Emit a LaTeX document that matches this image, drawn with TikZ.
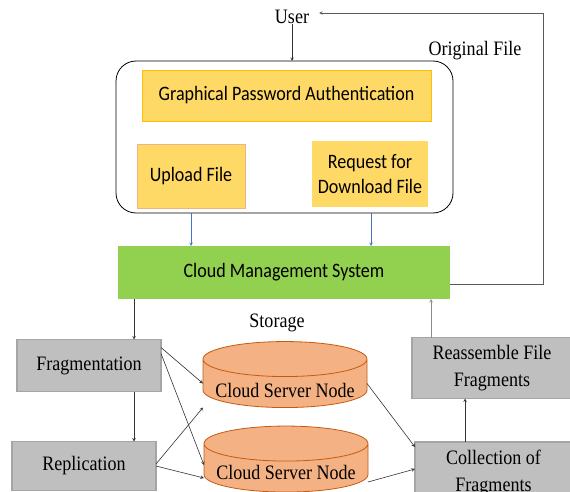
\documentclass[tikz,border=0pt]{standalone}
\usepackage{fontspec}
\setmainfont{Liberation Serif}[FakeStretch=0.88]
\newfontfamily\calibri{Carlito}[FakeStretch=0.88]
\usetikzlibrary{shapes.geometric}

\definecolor{gold}{HTML}{FFD966}
\definecolor{goldline}{HTML}{FFC000}
\definecolor{peach}{HTML}{F4B183}
\definecolor{rust}{HTML}{C55A11}
\definecolor{mgmtgreen}{HTML}{92D050}
\definecolor{boxgray}{HTML}{BFBFBF}
\definecolor{linegray}{HTML}{A5A5A5}
\definecolor{officeblue}{HTML}{4472C4}

\newcommand{\labelsize}{\fontsize{20.5}{27}\selectfont}

\tikzset{
  panel/.style={rectangle, fill=gold, align=center,
    font=\calibri\fontsize{20.5}{24.5}\selectfont},
  graybox/.style={rectangle, draw=linegray, line width=1.2pt, fill=boxgray,
    align=center, font=\labelsize},
  server/.style={cylinder, shape border rotate=90, aspect=0.25, draw=rust,
    fill=peach, line width=0.8pt, minimum width=164pt, minimum height=66pt,
    label={[font=\labelsize, yshift=-#1]center:Cloud Server Node}},
  flow/.style={->, draw=black!80, line width=0.6pt},
}

\begin{document}
\begin{tikzpicture}[x=1pt, y=-1pt, inner sep=0, outer sep=0, >=stealth]
  \useasboundingbox (0,0) rectangle (570,492);

  \node[font=\labelsize] (user) at (292, 17) {User};
  \node[font=\labelsize] (origlabel) at (475, 51) {Original File};

  % user side
  \node[rectangle, draw=black, line width=0.8pt, rounded corners=20pt,
    minimum width=337pt, minimum height=152pt] (portal) at (284.5, 137) {};
  \node[panel, draw=goldline, minimum width=289pt, minimum height=51pt] (auth) at (286.5, 95.5) {Graphical Password Authentication};
  \node[panel, draw=peach, minimum width=108pt, minimum height=64pt] (upload) at (191, 176) {Upload File};
  \node[panel, minimum width=116pt, minimum height=66pt] (request) at (370, 174) {Request for\\Download File};

  \node[rectangle, fill=mgmtgreen, minimum width=332pt, minimum height=53pt,
    font=\calibri\fontsize{20.5}{24}\selectfont] (cms) at (284, 272.5) {Cloud Management System};
  \node[font=\labelsize] (storage) at (277, 323) {Storage};

  % storage side
  \node[graybox, minimum width=144pt, minimum height=52pt] (frag) at (89, 365.5) {Fragmentation};
  \node[graybox, minimum width=144pt, minimum height=49pt] (repl) at (84, 466) {Replication};
  \node[server=7pt] (node1) at (285, 383.5) {\rule{140pt}{0pt}};
  \node[server=4pt] (node2) at (286, 468) {\rule{140pt}{0pt}};
  \node[graybox, minimum width=160pt, minimum height=61pt] (reasm) at (492, 368) {Reassemble File\\Fragments};
  \node[graybox, minimum width=157pt, minimum height=62pt] (coll) at (493.5, 473) {Collection of\\Fragments};

  \coordinate (loop) at (543, 13);

  \draw[flow] (user.south) -- (user.south |- portal.north);
  \draw[flow, draw=officeblue] (upload.south |- portal.south) -- (upload.south |- cms.north);
  \draw[flow, draw=officeblue] ([xshift=1pt]request.south |- portal.south) -- ([xshift=1pt]request.south |- cms.north);
  \draw[flow, draw=black!65] ([yshift=-12pt]cms.east) -| (loop) -- ([xshift=10pt]loop -| user.east);

  \draw[flow] ([xshift=16pt]cms.south west) -- ([xshift=45pt]frag.north);
  \draw[flow] ([xshift=45pt]frag.south) -- ([xshift=50pt]repl.north);
  \draw[flow] ([yshift=-8pt]frag.north east) -- (node1.west);
  \draw[flow] ([yshift=-14pt]frag.north east) -- ([yshift=3pt]node2.west);
  \draw[flow] ([yshift=2pt]repl.east) -- ([yshift=-24pt]node1.west);
  \draw[flow] (repl.east) -- ([yshift=-10pt]node2.west);
  \draw[flow] (node1.east) -- ([yshift=-5pt]coll.north west);
  \draw[flow] ([yshift=-14pt]node2.east) -- ([yshift=4pt]coll.west);
  \draw[flow] ([xshift=50pt]coll.north west) -- ([xshift=50pt]coll.north west |- reasm.south);
  \draw[flow, draw=black!45] ([xshift=19pt]reasm.north west) -- ([xshift=19pt]reasm.north west |- cms.south);
\end{tikzpicture}
\end{document}
